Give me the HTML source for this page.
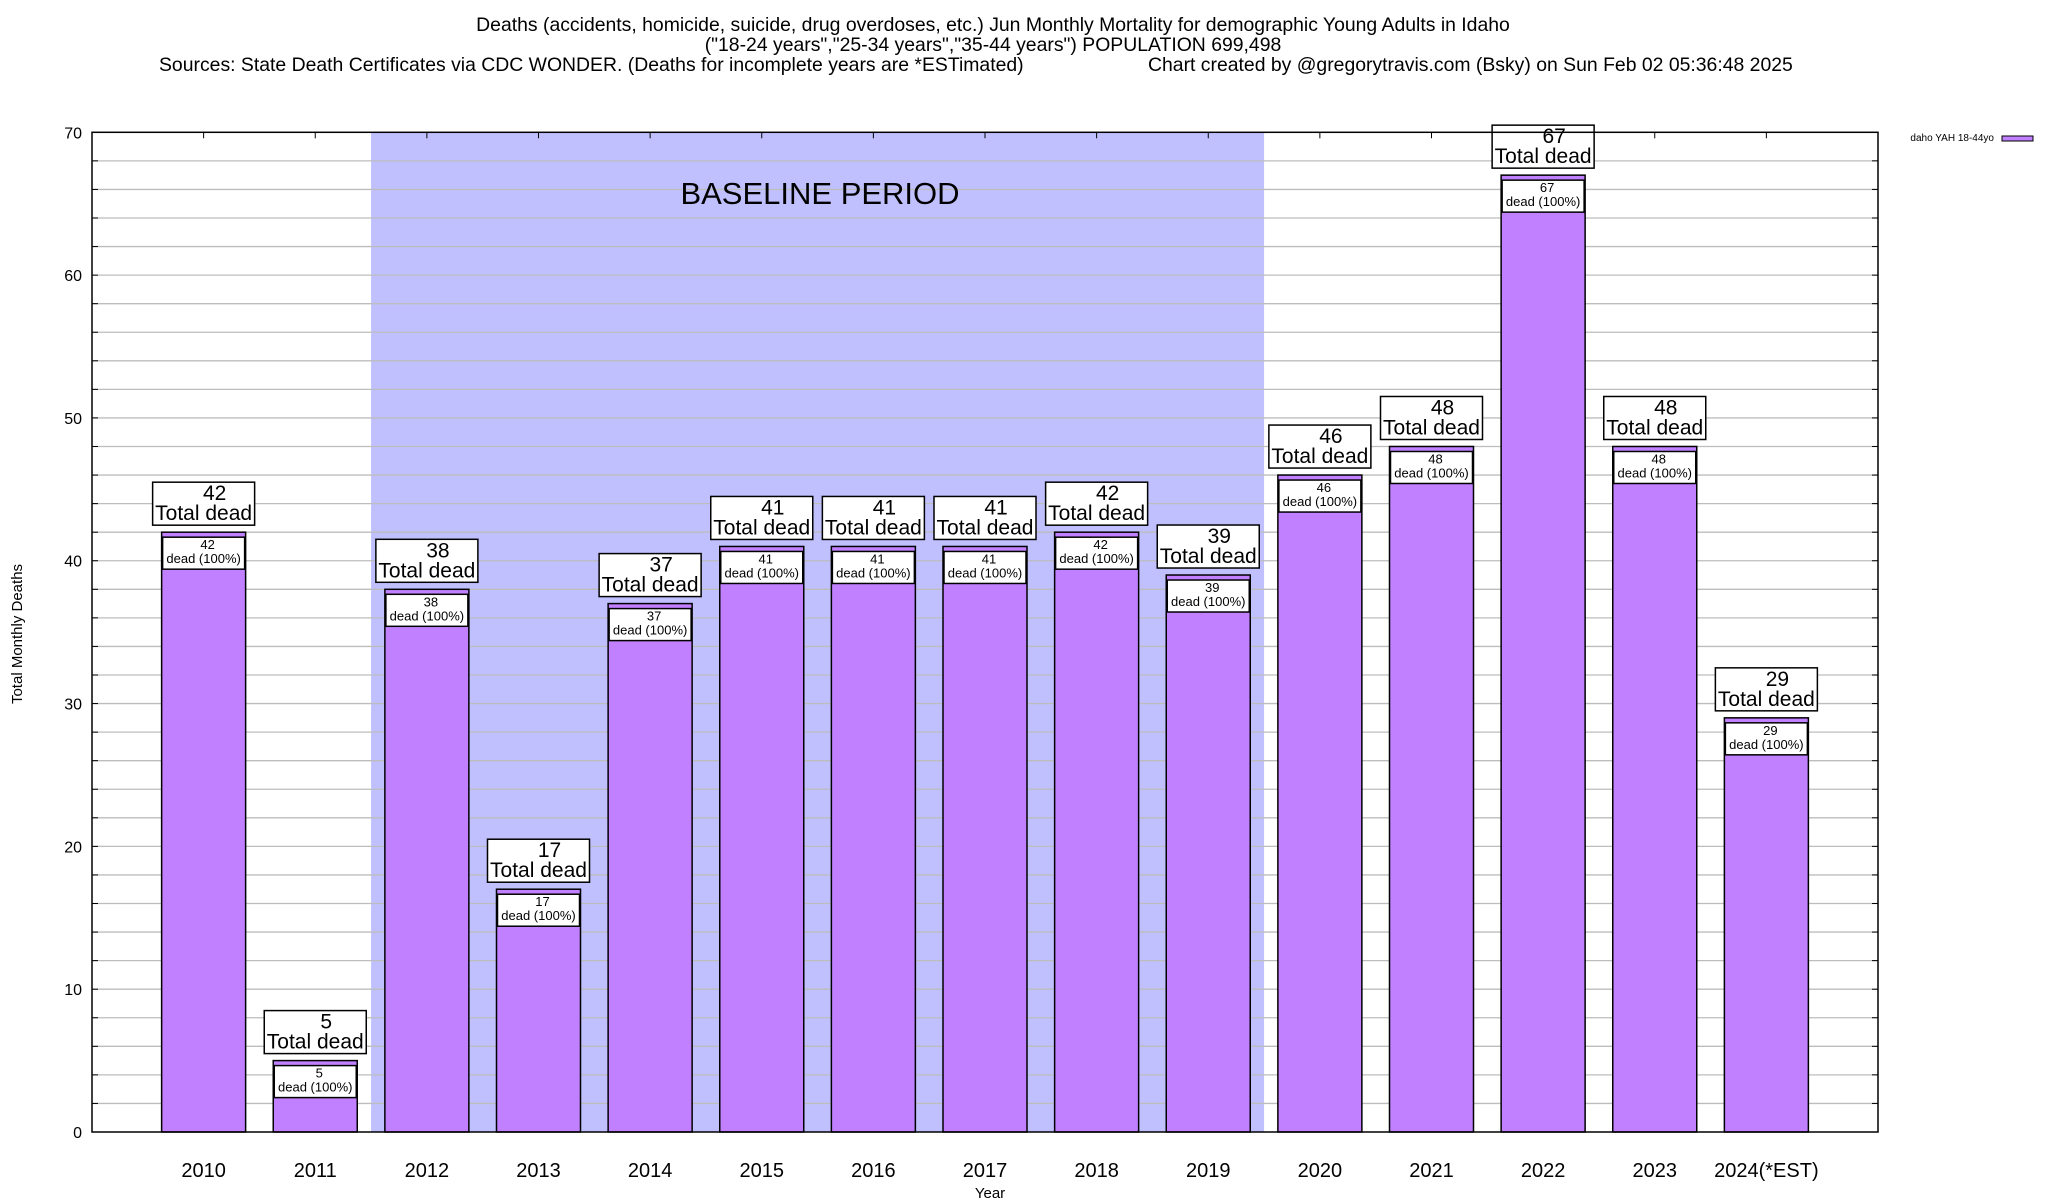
<!DOCTYPE html>
<html><head><meta charset="utf-8">
<style>
html,body{margin:0;padding:0;background:#fff;}
svg{display:block;font-family:"Liberation Sans",Arial,sans-serif;}
</style></head>
<body>
<svg id="chart" width="2048" height="1200" viewBox="0 0 2048 1200" xmlns="http://www.w3.org/2000/svg">
  <g font-size="19.4" fill="#000">
    <text x="993" y="31" text-anchor="middle">Deaths (accidents, homicide, suicide, drug overdoses, etc.) Jun Monthly Mortality for demographic Young Adults in Idaho</text>
    <text x="993" y="51" text-anchor="middle">("18-24 years","25-34 years","35-44 years") POPULATION 699,498</text>
    <text x="159" y="71">Sources: State Death Certificates via CDC WONDER. (Deaths for incomplete years are *ESTimated)</text>
    <text x="1148" y="71">Chart created by @gregorytravis.com (Bsky) on Sun Feb 02 05:36:48 2025</text>
  </g>
  <g id="plot"></g>
  <text x="990" y="1198" text-anchor="middle" font-size="15">Year</text>
  <text transform="translate(22,634) rotate(-90)" text-anchor="middle" font-size="15">Total Monthly Deaths</text>
  <g>
    <text x="1994" y="141" text-anchor="end" font-size="10">daho YAH 18-44yo</text>
    <rect x="2002" y="136" width="31" height="5" fill="#c080ff" stroke="#000" stroke-width="1"/>
  </g>
</svg>
<script>
const categories = ["2010","2011","2012","2013","2014","2015","2016","2017","2018","2019","2020","2021","2022","2023","2024(*EST)"];
const deaths = [42,5,38,17,37,41,41,41,42,39,46,48,67,48,29];
const yTicks = [0,10,20,30,40,50,60,70];
const baselineRange = [2, 9];

const NS = "http://www.w3.org/2000/svg";
const L = 92, R = 1878, T = 132.3, B = 1132;
const yMax = 70;
const step = (R - L) / 16;
const xScale = i => L + (i + 1) * step;
const yScale = v => B - (v / yMax) * (B - T);
const barW = 84;
const plot = document.getElementById('plot');
function mk(tag, attrs, parent) {
  const e = document.createElementNS(NS, tag);
  for (const k in attrs) e.setAttribute(k, attrs[k]);
  (parent || plot).appendChild(e);
  return e;
}

const bx0 = xScale(baselineRange[0]) - step / 2, bx1 = xScale(baselineRange[1]) + step / 2;
const shade = mk('rect', {x: bx0, y: T, width: bx1 - bx0, height: B - T, fill: '#c0c0ff'});



for (let v = 2; v < yMax; v += 2) {
  const g = mk('line', {x1: L, x2: R, y1: yScale(v), y2: yScale(v), stroke: '#bdbdbd', 'stroke-width': 1.3});
  
  
  mk('line', {x1: L, x2: L + 6, y1: yScale(v), y2: yScale(v), stroke: '#000', 'stroke-width': 1});
  mk('line', {x1: R - 6, x2: R, y1: yScale(v), y2: yScale(v), stroke: '#000', 'stroke-width': 1});
}
yTicks.forEach(v => {
  const t = mk('text', {x: 82, y: yScale(v) + 6, 'text-anchor': 'end', 'font-size': 16});
  t.textContent = v;
  
  
});

const bl = mk('text', {x: 820, y: 204, 'text-anchor': 'middle', 'font-size': 31});
bl.textContent = 'BASELINE PERIOD';



categories.forEach((c, i) => {
  const cx = xScale(i), v = deaths[i], top = yScale(v);
  mk('line', {x1: cx, x2: cx, y1: T, y2: T + 6, stroke: '#000', 'stroke-width': 1});
  const bar = mk('rect', {x: cx - barW / 2, y: top, width: barW, height: B - top, fill: '#c080ff', stroke: '#000', 'stroke-width': 1.5});
  
  
  const ib = mk('rect', {x: cx - 41, y: top + 5, width: 82, height: 32, fill: '#fff', stroke: '#000', 'stroke-width': 1.5});
  
  
  const it1 = mk('text', {x: cx + 4, y: top + 17, 'text-anchor': 'middle', 'font-size': 13});
  it1.textContent = v;
  
  
  const it2 = mk('text', {x: cx, y: top + 31, 'text-anchor': 'middle', 'font-size': 13});
  it2.textContent = 'dead (100%)';
  
  
  const ob = mk('rect', {x: cx - 51, y: top - 50, width: 102, height: 43, fill: '#fff', stroke: '#000', 'stroke-width': 1.5});
  
  
  const ot1 = mk('text', {x: cx + 11, y: top - 32, 'text-anchor': 'middle', 'font-size': 21});
  ot1.textContent = v;
  
  
  const ot2 = mk('text', {x: cx, y: top - 12, 'text-anchor': 'middle', 'font-size': 21});
  ot2.textContent = 'Total dead';
  
  
  const xl = mk('text', {x: cx, y: 1177, 'text-anchor': 'middle', 'font-size': 20});
  xl.textContent = c;
  
  
});

const frame = mk('rect', {x: L, y: T, width: R - L, height: B - T, fill: 'none', stroke: '#000', 'stroke-width': 1.5});


</script>
</body></html>
